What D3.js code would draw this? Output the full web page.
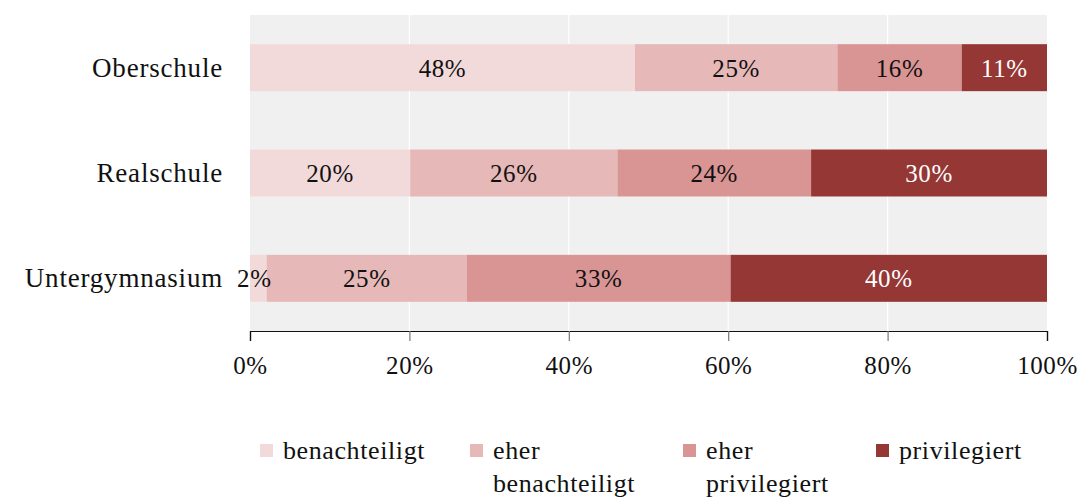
<!DOCTYPE html>
<html>
<head>
<meta charset="utf-8">
<script src="https://cdn.jsdelivr.net/npm/d3@7"></script>
<style>
  body { margin: 0; background: #fff; }
  text { font-family: "Liberation Serif", "DejaVu Serif", serif; letter-spacing: 0.6px; }
</style>
</head>
<body>
<svg id="chart" width="1086" height="498"></svg>
<script>
// daten
const schools = ["Oberschule", "Realschule", "Untergymnasium"];
const groups = ["benachteiligt", "eher benachteiligt", "eher privilegiert", "privilegiert"];
const benachteiligt = [48.3, 20.1, 2.1];
const eherBenachteiligt = [25.4, 26.0, 25.1];
const eherPrivilegiert = [15.6, 24.3, 33.1];
const privilegiert = [10.7, 29.6, 39.7];
const ticks = [0, 20, 40, 60, 80, 100];

const colors = ["#f2dadb", "#e6b8b8", "#d99594", "#953735"];
const labelColors = ["#111", "#111", "#111", "#fff"];

const fontFam = '"Liberation Serif", "DejaVu Serif", serif';
const fs = 25;

const svg = d3.select("#chart");
const plotLeft = 250, plotRight = 1047, plotTop = 15, plotBottom = 331;

const x = d3.scaleLinear().domain([0, 100]).range([plotLeft, plotRight]);
const y = d3.scaleBand().domain(schools).range([plotTop, plotBottom])
  .paddingInner(0.554).paddingOuter(0.277);

// grauer hintergrund
svg.append("rect")
  .attr("x", plotLeft).attr("y", plotTop)
  .attr("width", plotRight - plotLeft).attr("height", plotBottom - plotTop)
  .attr("fill", "#f0f0f0");

// weiße gitterlinien
svg.selectAll(".grid")
  .data(ticks.slice(1, -1))
  .enter().append("line")
  .attr("x1", d => x(d)).attr("x2", d => x(d))
  .attr("y1", plotTop).attr("y2", plotBottom)
  .attr("stroke", "#fff").attr("stroke-width", 1.2);

// stapel bauen
const rows = schools.map((s, i) => ({
  school: s,
  values: [benachteiligt[i], eherBenachteiligt[i], eherPrivilegiert[i], privilegiert[i]]
}));
const segs = [];
rows.forEach(r => {
  let acc = 0;
  r.values.forEach((v, k) => {
    segs.push({ school: r.school, k, x0: acc, x1: acc + v, v });
    acc += v;
  });
});

svg.selectAll(".seg")
  .data(segs)
  .enter().append("rect")
  .attr("x", d => x(d.x0))
  .attr("y", d => y(d.school))
  .attr("width", d => x(d.x1) - x(d.x0))
  .attr("height", y.bandwidth())
  .attr("fill", d => colors[d.k]);

svg.selectAll(".seg-label")
  .data(segs)
  .enter().append("text")
  .attr("x", d => (x(d.x0) + x(d.x1)) / 2 - (d.v < 5 ? 4 : 0))
  .attr("y", d => y(d.school) + y.bandwidth() / 2 + 9)
  .attr("text-anchor", "middle")
  .attr("font-size", fs)
  .attr("fill", d => labelColors[d.k])
  .text(d => Math.round(d.v) + "%");

// y beschriftung
svg.selectAll(".ylab")
  .data(schools)
  .enter().append("text")
  .attr("x", 223)
  .attr("y", d => y(d) + y.bandwidth() / 2 + 9)
  .attr("text-anchor", "end")
  .attr("font-size", 27)
  .style("letter-spacing", "0.8px")
  .attr("fill", "#111")
  .text(d => d);

// x achse
const axis = svg.append("g")
  .attr("transform", `translate(0,${plotBottom})`)
  .call(d3.axisBottom(x).tickValues(ticks).tickSize(10).tickPadding(15).tickFormat(d => d + "%"));
axis.select(".domain").attr("stroke", "#111").attr("stroke-width", 1.2);
axis.selectAll(".tick line")
  .attr("stroke", (d, i) => (i === 0 || i === ticks.length - 1) ? "#111" : "#777")
  .attr("stroke-width", 1.2);
axis.selectAll(".tick text")
  .attr("font-size", fs).attr("fill", "#111")
  .style("font-family", fontFam);

// legende
const legendX = [260, 470, 683, 876];
const legendLines = [["benachteiligt"], ["eher", "benachteiligt"], ["eher", "privilegiert"], ["privilegiert"]];
const lg = svg.selectAll(".leg")
  .data(groups)
  .enter().append("g")
  .attr("transform", (d, i) => `translate(${legendX[i]},444)`);
lg.append("rect")
  .attr("width", 13).attr("height", 13)
  .attr("fill", (d, i) => colors[i]);
lg.append("text")
  .attr("x", 23).attr("y", 15)
  .attr("font-size", 26).attr("fill", "#111")
  .selectAll("tspan")
  .data((d, i) => legendLines[i])
  .enter().append("tspan")
  .attr("x", 23)
  .attr("dy", (d, j) => j === 0 ? 0 : 33)
  .text(d => d);
</script>
</body>
</html>
